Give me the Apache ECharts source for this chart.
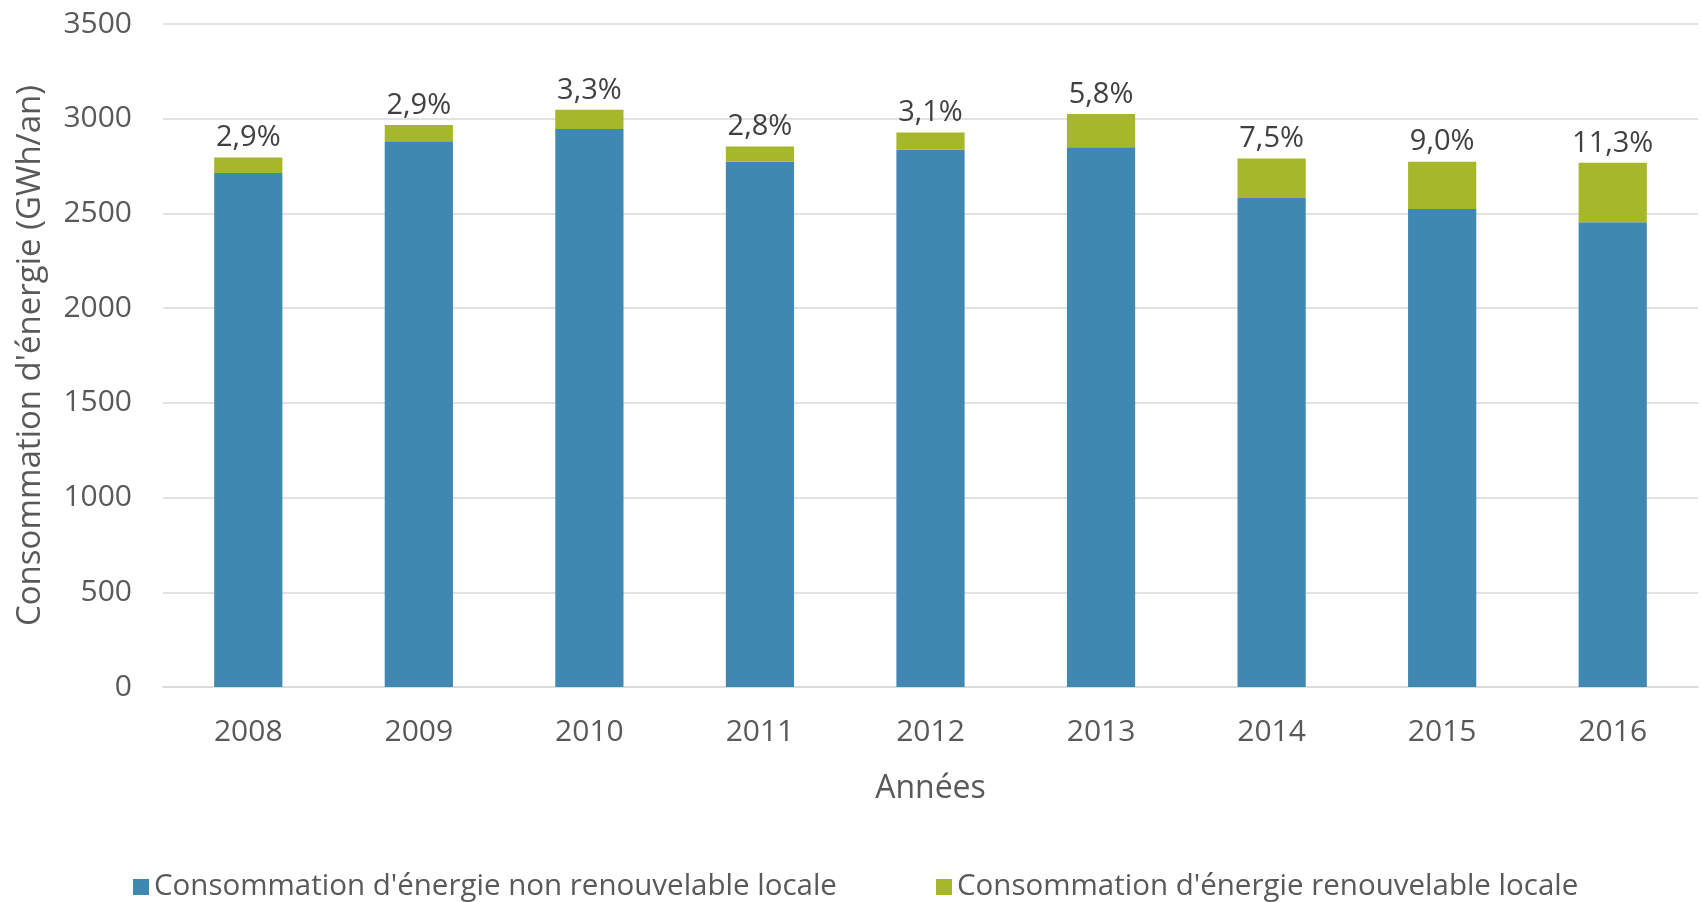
<!DOCTYPE html>
<html>
<head>
<meta charset="utf-8">
<script src="https://cdn.jsdelivr.net/npm/echarts@6/dist/echarts.min.js"></script>
<style>
html,body{margin:0;padding:0;background:#fff;}
#chart{width:1701px;height:902px;}
</style>
</head>
<body>
<div id="chart"></div>
<script>
var categories = ["2008","2009","2010","2011","2012","2013","2014","2015","2016"];
var nonRenewable = [2714, 2881, 2946, 2773, 2836, 2850, 2581, 2523, 2454];
var renewable = [81, 86, 101, 80, 91, 175, 209, 250, 313];
var shareLabels = ["2,9%","2,9%","3,3%","2,8%","3,1%","5,8%","7,5%","9,0%","11,3%"];
var seriesNames = ["Consommation d'énergie non renouvelable locale", "Consommation d'énergie renouvelable locale"];
var yTicks = {min: 0, max: 3500, interval: 500};

var FONT = "Open Sans";
var TXT = "#595959";
var chart = echarts.init(document.getElementById('chart'));
chart.setOption({
  animation: false,
  textStyle: {fontFamily: FONT},
  grid: {left: 163, right: 3, top: 24, bottom: 215, containLabel: false},
  legend: [
    {data: [seriesNames[0]], left: 128, top: 867, icon: 'rect', itemWidth: 16, itemHeight: 16,
     textStyle: {fontFamily: FONT, fontSize: 29.5, color: TXT}},
    {data: [seriesNames[1]], left: 931, top: 867, icon: 'rect', itemWidth: 16, itemHeight: 16,
     textStyle: {fontFamily: FONT, fontSize: 29.5, color: TXT}}
  ],
  xAxis: {
    type: 'category', data: categories,
    name: 'Années', nameLocation: 'middle', nameGap: 86,
    nameTextStyle: {fontFamily: FONT, fontSize: 32, color: TXT},
    axisLine: {lineStyle: {color: '#D9D9D9', width: 1.5}},
    axisTick: {show: false},
    axisLabel: {fontFamily: FONT, fontSize: 30, color: TXT, margin: 30}
  },
  yAxis: {
    type: 'value', min: yTicks.min, max: yTicks.max, interval: yTicks.interval,
    name: "Consommation d'énergie (GWh/an)", nameLocation: 'middle', nameGap: 116,
    nameTextStyle: {fontFamily: FONT, fontSize: 33, color: TXT},
    axisLine: {show: false}, axisTick: {show: false},
    axisLabel: {fontFamily: FONT, fontSize: 30, color: TXT, margin: 31,
      formatter: function (v) { return String(v); }},
    splitLine: {lineStyle: {color: '#D9D9D9', width: 1.5}}
  },
  series: [
    {name: seriesNames[0], type: 'bar', stack: 'total', data: nonRenewable, barWidth: '40%',
     itemStyle: {color: '#3F88B2'}},
    {name: seriesNames[1], type: 'bar', stack: 'total', data: renewable, barWidth: '40%',
     itemStyle: {color: '#A6B829'},
     label: {show: true, position: 'top', distance: 5, fontFamily: FONT, fontSize: 29, color: '#404040',
       formatter: function (p) { return shareLabels[p.dataIndex]; }}}
  ]
});
</script>
</body>
</html>
